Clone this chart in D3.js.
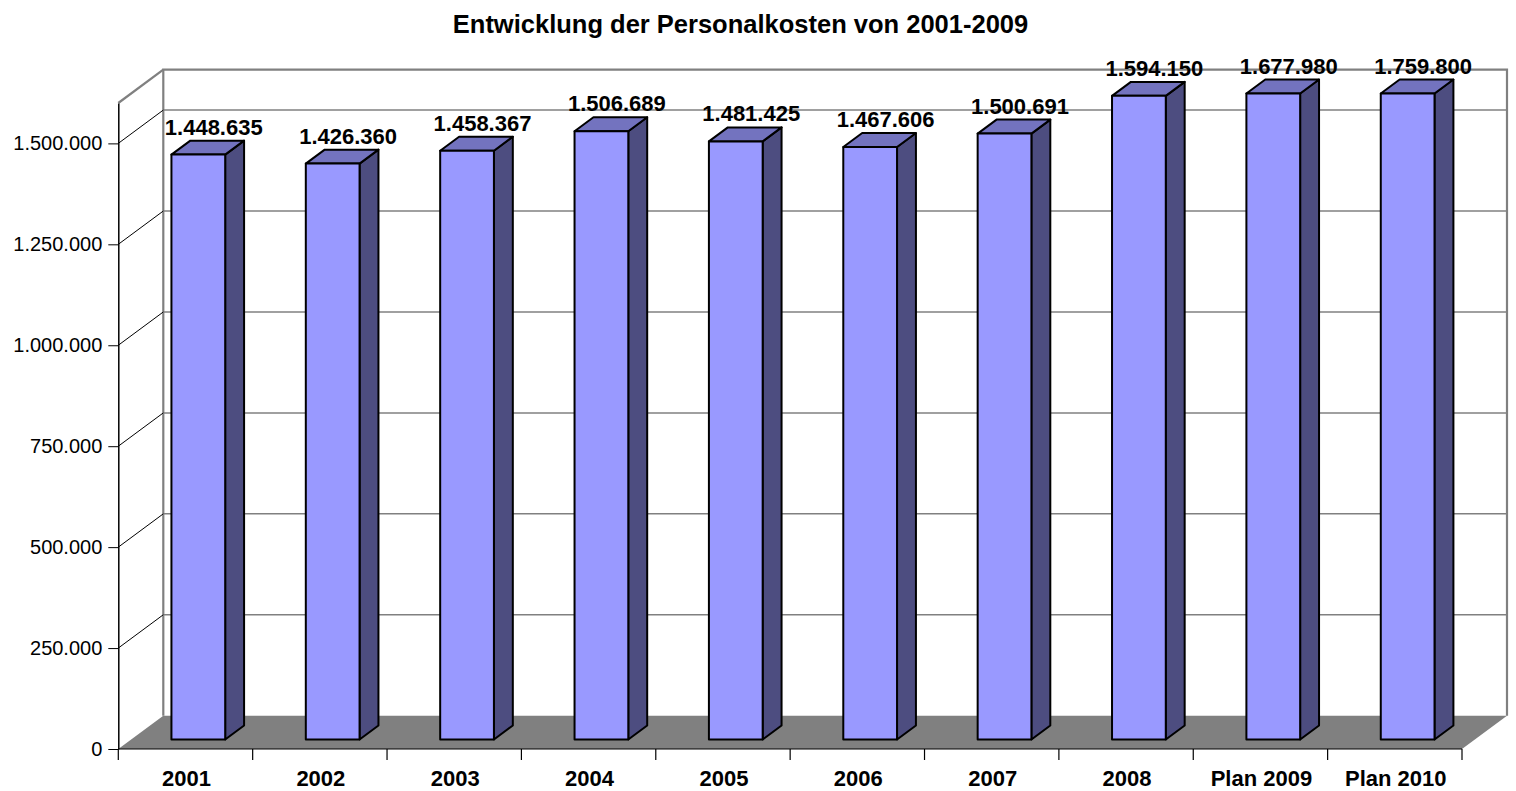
<!DOCTYPE html>
<html>
<head>
<meta charset="utf-8">
<script src="https://cdn.jsdelivr.net/npm/d3@7"></script>
<style>
  body { margin: 0; background: #fff; }
  text { font-family: "Liberation Sans", Arial, sans-serif; }
</style>
</head>
<body>
<script>
// data
var categories = ["2001", "2002", "2003", "2004", "2005", "2006", "2007", "2008", "Plan 2009", "Plan 2010"];
var values = [1448635, 1426360, 1458367, 1506689, 1481425, 1467606, 1500691, 1594150, 1677980, 1759800];
var yTicks = [0, 250000, 500000, 750000, 1000000, 1250000, 1500000];
var yMax = 1600000;
var title = "Entwicklung der Personalkosten von 2001-2009";

var width = 1516, height = 791;

// 3d frame
var x0 = 118.3, x1 = 1462, y0 = 749, plotH = 646;
var depthX = 45, depthY = 33.3;
var f1 = 0.285, f2 = 0.705; // bar front / back depth

var de = d3.formatLocale({decimal: ",", thousands: ".", grouping: [3], currency: ["", "€"]});
var fmt = de.format(",d");

var svg = d3.select("body").append("svg")
    .attr("width", width)
    .attr("height", height);

var x = d3.scaleBand()
    .domain(categories)
    .range([x0, x1])
    .paddingInner(0.6)
    .paddingOuter(0.3);

var y = d3.scaleLinear()
    .domain([0, yMax])
    .range([0, plotH]);

var wallX = x0 + depthX, wallBottom = y0 - depthY;

// back wall gridlines
svg.append("g")
    .selectAll("line")
    .data(yTicks.slice(1))
    .join("line")
    .attr("x1", wallX)
    .attr("x2", x1 + depthX)
    .attr("y1", d => wallBottom - y(d))
    .attr("y2", d => wallBottom - y(d))
    .attr("stroke", "#808080")
    .attr("stroke-width", 1.5);

// back wall border
svg.append("path")
    .attr("d", `M${wallX},${wallBottom} V${wallBottom - plotH} H${x1 + depthX} V${wallBottom}`)
    .attr("fill", "none")
    .attr("stroke", "#808080")
    .attr("stroke-width", 2.2);

// left wall gridlines
svg.append("g")
    .selectAll("line")
    .data(yTicks.slice(1))
    .join("line")
    .attr("x1", x0)
    .attr("x2", wallX)
    .attr("y1", d => y0 - y(d))
    .attr("y2", d => wallBottom - y(d))
    .attr("stroke", "#000")
    .attr("stroke-width", 1);

svg.append("line")
    .attr("x1", x0).attr("y1", y0 - plotH)
    .attr("x2", wallX).attr("y2", wallBottom - plotH)
    .attr("stroke", "#808080")
    .attr("stroke-width", 2.2);

// floor
svg.append("polygon")
    .attr("points", [[x0, y0], [x1, y0], [x1 + depthX, wallBottom], [wallX, wallBottom]].join(" "))
    .attr("fill", "#808080");

// y axis
var yAxisScale = d3.scaleLinear().domain([0, yMax]).range([y0, y0 - plotH]);
var yAxis = svg.append("g")
    .attr("transform", `translate(${x0},0)`)
    .call(d3.axisLeft(yAxisScale).tickValues(yTicks).tickFormat(fmt).tickSize(10).tickSizeOuter(0).tickPadding(6));
yAxis.select(".domain").attr("stroke", "#000").attr("stroke-width", 1.5);
yAxis.selectAll(".tick line").attr("stroke", "#000");
yAxis.selectAll(".tick text")
    .style("font-family", "'Liberation Sans', Arial, sans-serif")
    .style("font-size", "20px")
    .attr("fill", "#000");

// x axis
svg.append("line")
    .attr("x1", x0).attr("x2", x1)
    .attr("y1", y0).attr("y2", y0)
    .attr("stroke", "#000").attr("stroke-width", 1.2);

var step = x.step();
svg.append("g")
    .selectAll("line")
    .data(d3.range(categories.length + 1))
    .join("line")
    .attr("x1", i => x0 + i * step)
    .attr("x2", i => x0 + i * step)
    .attr("y1", y0)
    .attr("y2", y0 + 11)
    .attr("stroke", "#000")
    .attr("stroke-width", 1.2);

svg.append("g")
    .selectAll("text")
    .data(categories)
    .join("text")
    .attr("x", d => x(d) + x.bandwidth() / 2 + 1)
    .attr("y", y0 + 37)
    .attr("text-anchor", "middle")
    .style("font-size", "22px")
    .style("font-weight", "bold")
    .text(d => d);

// bars
var bars = categories.map((c, i) => ({cat: c, value: values[i], h: y(Math.min(values[i], yMax))}));
var bw = x.bandwidth();

var barG = svg.append("g")
    .attr("stroke", "#000")
    .attr("stroke-width", 2)
    .attr("stroke-linejoin", "round");

barG.selectAll("polygon.side")
    .data(bars)
    .join("polygon")
    .attr("class", "side")
    .attr("fill", "#4d4d80")
    .attr("points", d => {
        var xr = x(d.cat) + bw;
        return [
            [xr + depthX * f1, y0 - depthY * f1 - d.h],
            [xr + depthX * f2, y0 - depthY * f2 - d.h],
            [xr + depthX * f2, y0 - depthY * f2],
            [xr + depthX * f1, y0 - depthY * f1]
        ].join(" ");
    });

barG.selectAll("polygon.top")
    .data(bars)
    .join("polygon")
    .attr("class", "top")
    .attr("fill", "#7373bf")
    .attr("points", d => {
        var xl = x(d.cat), xr = xl + bw;
        return [
            [xl + depthX * f1, y0 - depthY * f1 - d.h],
            [xr + depthX * f1, y0 - depthY * f1 - d.h],
            [xr + depthX * f2, y0 - depthY * f2 - d.h],
            [xl + depthX * f2, y0 - depthY * f2 - d.h]
        ].join(" ");
    });

barG.selectAll("rect")
    .data(bars)
    .join("rect")
    .attr("fill", "#9999ff")
    .attr("x", d => x(d.cat) + depthX * f1)
    .attr("y", d => y0 - depthY * f1 - d.h)
    .attr("width", bw)
    .attr("height", d => d.h);

// value labels
svg.append("g")
    .selectAll("text")
    .data(bars)
    .join("text")
    .attr("x", d => x(d.cat) + bw / 2 + depthX * (f1 + f2) / 2 + 6)
    .attr("y", d => y0 - depthY * f2 - d.h - 6)
    .attr("text-anchor", "middle")
    .style("font-size", "22px")
    .style("font-weight", "bold")
    .text(d => fmt(d.value));

// title
svg.append("text")
    .attr("x", 740.5)
    .attr("y", 33)
    .attr("text-anchor", "middle")
    .style("font-size", "25.5px")
    .style("font-weight", "bold")
    .text(title);
</script>
</body>
</html>
